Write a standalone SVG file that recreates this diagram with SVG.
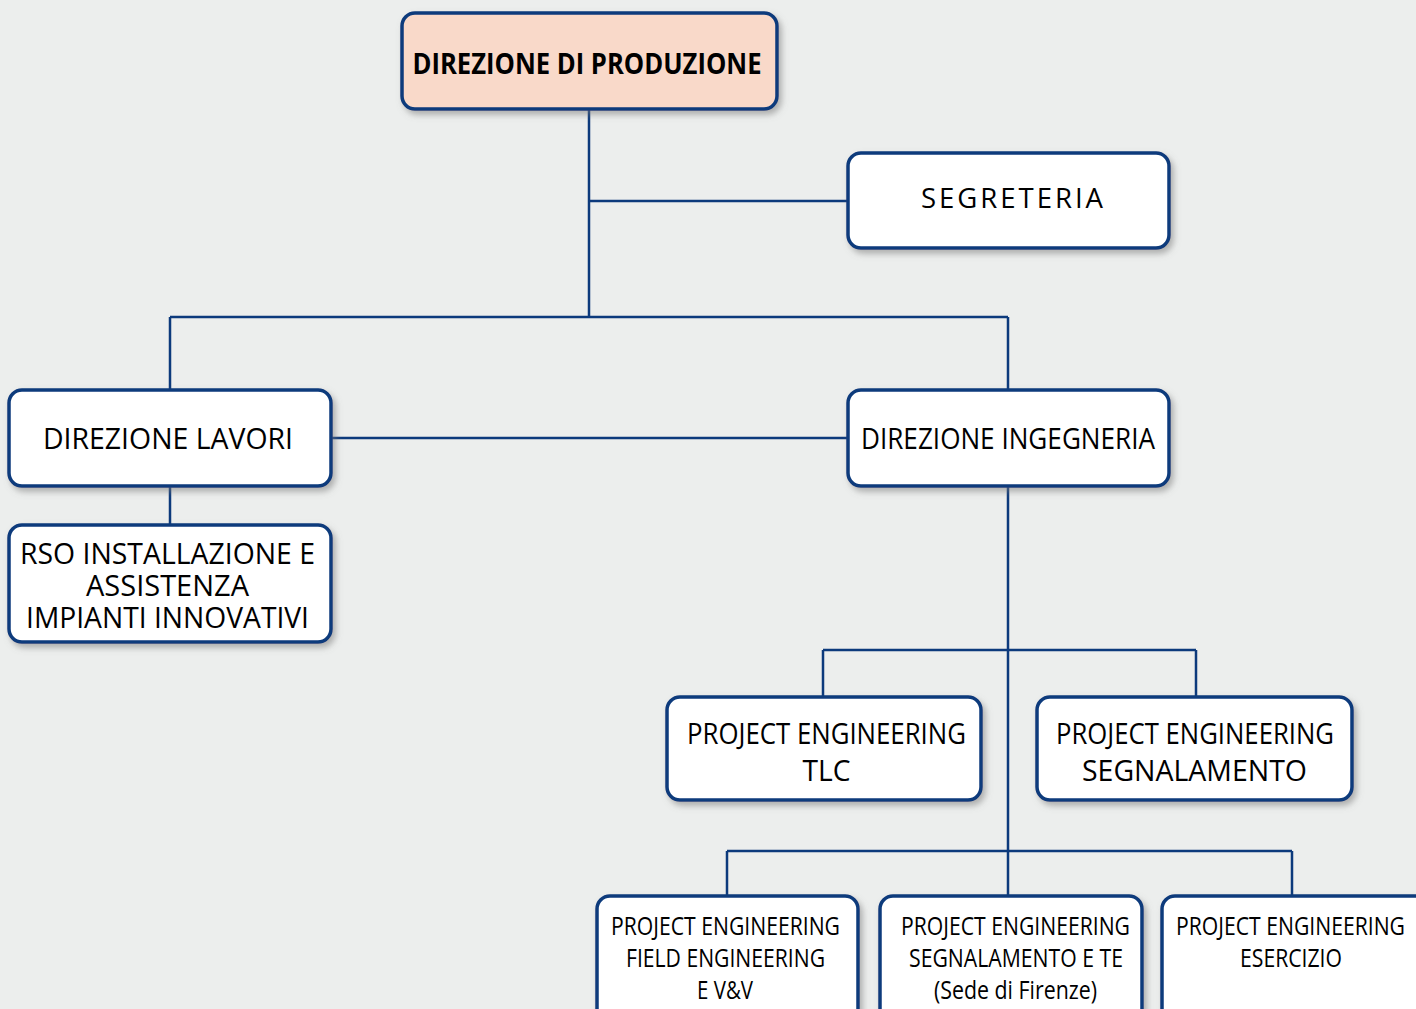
<svg xmlns="http://www.w3.org/2000/svg" width="1416" height="1009" viewBox="0 0 1416 1009">
<defs>
<filter id="sh" x="-10%" y="-10%" width="125%" height="135%">
<feDropShadow dx="3" dy="4" stdDeviation="3" flood-color="#7a7a7a" flood-opacity="0.55"/>
</filter>
<style>
.box{fill:#ffffff;stroke:#0c3a7c;stroke-width:3.5;filter:url(#sh)}
.top{fill:#f9d9c9}
.ln{stroke:#0c3a7c;stroke-width:2.5;fill:none}
text{font-family:"Open Sans","Noto Sans","Liberation Sans",sans-serif;fill:#000;text-anchor:middle}
.t30{font-size:29px}
.t25{font-size:25px}
</style>
</defs>
<rect width="1416" height="1009" fill="#eceeed"/>
<g id="connectors">
<path class="ln" d="M589 109V317M589 201H848M170 317H1008M170 317V390M1008 317V390M331 438H848M170 486V525M1008 486V896M823 650H1196M823 650V697M1196 650V697M727 851H1292M727 851V896M1292 851V896"/>
</g>
<g id="n-direzione-produzione">
<rect class="box top" x="402" y="13" width="375" height="96" rx="13"/>
<text x="587" y="74" style="font-size:28px;font-weight:bold" textLength="349" lengthAdjust="spacingAndGlyphs">DIREZIONE DI PRODUZIONE</text>
</g>
<g id="n-segreteria">
<rect class="box" x="848" y="153" width="321" height="95" rx="13"/>
<text x="1013.5" y="208" style="font-size:28px;letter-spacing:3px" textLength="185" lengthAdjust="spacingAndGlyphs">SEGRETERIA</text>
</g>
<g id="n-direzione-lavori">
<rect class="box" x="9" y="390" width="322" height="96" rx="13"/>
<text class="t30" x="168" y="449" textLength="250" lengthAdjust="spacingAndGlyphs">DIREZIONE LAVORI</text>
</g>
<g id="n-direzione-ingegneria">
<rect class="box" x="848" y="390" width="321" height="96" rx="13"/>
<text class="t30" x="1008" y="449" textLength="294" lengthAdjust="spacingAndGlyphs">DIREZIONE INGEGNERIA</text>
</g>
<g id="n-rso">
<rect class="box" x="9" y="525" width="322" height="117" rx="13"/>
<text class="t30" x="167.5" y="564" textLength="295" lengthAdjust="spacingAndGlyphs">RSO INSTALLAZIONE E</text>
<text class="t30" x="167.5" y="596" textLength="163" lengthAdjust="spacingAndGlyphs">ASSISTENZA</text>
<text class="t30" x="167.5" y="628" textLength="283" lengthAdjust="spacingAndGlyphs">IMPIANTI INNOVATIVI</text>
</g>
<g id="n-pe-tlc">
<rect class="box" x="667" y="697" width="314" height="103" rx="13"/>
<text class="t30" x="826.5" y="744" textLength="279" lengthAdjust="spacingAndGlyphs">PROJECT ENGINEERING</text>
<text class="t30" x="826.5" y="781" textLength="48" lengthAdjust="spacingAndGlyphs">TLC</text>
</g>
<g id="n-pe-segnalamento">
<rect class="box" x="1037" y="697" width="315" height="103" rx="13"/>
<text class="t30" x="1195" y="744" textLength="278" lengthAdjust="spacingAndGlyphs">PROJECT ENGINEERING</text>
<text class="t30" x="1194.5" y="781" textLength="225" lengthAdjust="spacingAndGlyphs">SEGNALAMENTO</text>
</g>
<g id="n-pe-field">
<rect class="box" x="597" y="896" width="261" height="130" rx="13"/>
<text class="t25" x="725.5" y="935" textLength="229" lengthAdjust="spacingAndGlyphs">PROJECT ENGINEERING</text>
<text class="t25" x="725.5" y="967" textLength="199" lengthAdjust="spacingAndGlyphs">FIELD ENGINEERING</text>
<text class="t25" x="725" y="999" textLength="56" lengthAdjust="spacingAndGlyphs">E V&amp;V</text>
</g>
<g id="n-pe-segnalamento-te">
<rect class="box" x="880" y="896" width="262" height="130" rx="13"/>
<text class="t25" x="1015.5" y="935" textLength="229" lengthAdjust="spacingAndGlyphs">PROJECT ENGINEERING</text>
<text class="t25" x="1016" y="967" textLength="214" lengthAdjust="spacingAndGlyphs">SEGNALAMENTO E TE</text>
<text class="t25" x="1015.5" y="999" textLength="163" lengthAdjust="spacingAndGlyphs">(Sede di Firenze)</text>
</g>
<g id="n-pe-esercizio">
<rect class="box" x="1162" y="896" width="270" height="130" rx="13"/>
<text class="t25" x="1290.5" y="935" textLength="229" lengthAdjust="spacingAndGlyphs">PROJECT ENGINEERING</text>
<text class="t25" x="1291" y="967" textLength="102" lengthAdjust="spacingAndGlyphs">ESERCIZIO</text>
</g>
</svg>
